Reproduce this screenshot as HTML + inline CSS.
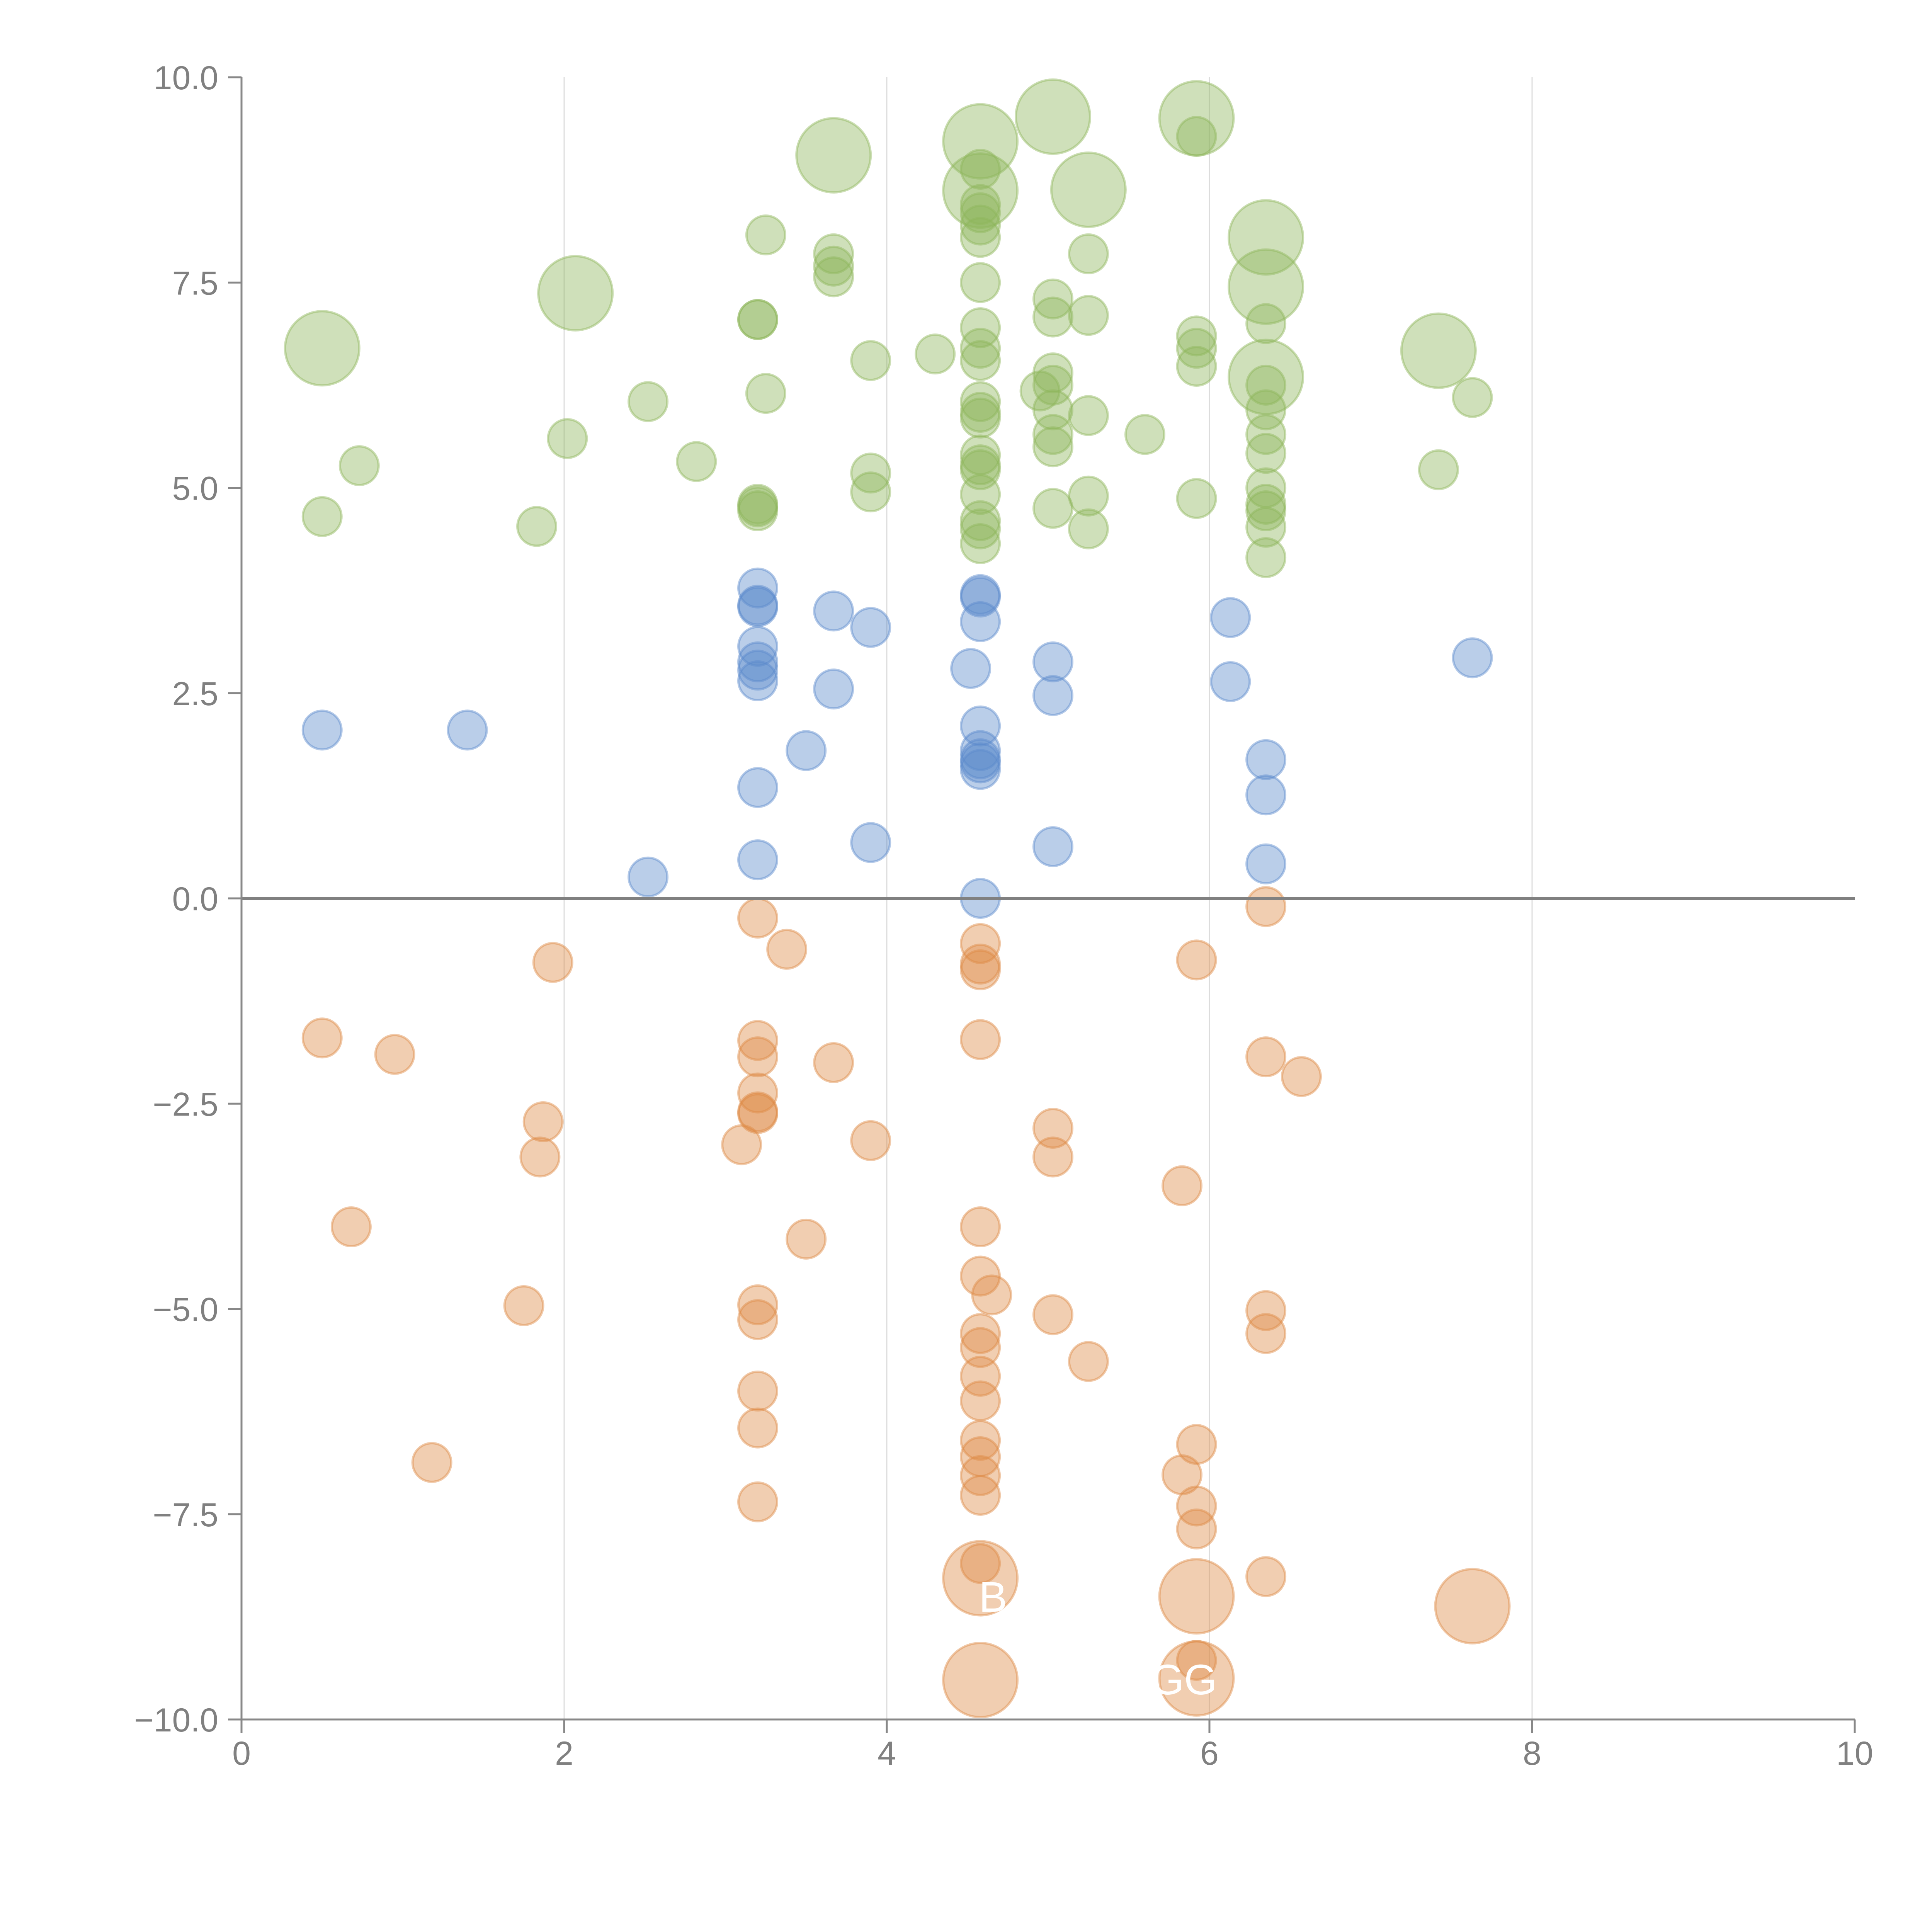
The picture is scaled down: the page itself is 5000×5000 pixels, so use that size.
<!DOCTYPE html>
<html><head><meta charset="utf-8"><style>
html,body{margin:0;padding:0;background:#fff;}
svg{display:block;}
text{font-family:"Liberation Sans",Arial,sans-serif;}
</style></head><body>
<svg id="chart" width="5000" height="5000" viewBox="0 0 5000 5000" xmlns="http://www.w3.org/2000/svg">
<g id="grid"></g>
<g id="marks"></g>
<g id="axes"></g>
<g id="labels">
<text x="2570" y="4171" font-size="110" fill="#fff" text-anchor="middle">B</text>
<text x="3150" y="4385" font-size="110" fill="#fff" text-anchor="end">GG</text>
</g>
</svg>
<script>
const xTicks = [0,2,4,6,8,10];
const yTicks = [-10,-7.5,-5,-2.5,0,2.5,5,7.5,10];
const yTickLabels = ["\u221210.0","\u22127.5","\u22125.0","\u22122.5","0.0","2.5","5.0","7.5","10.0"];
const gridX = [2,4,6,8];

const greenX = [0.5,0.5,0.73,1.83,2.02,2.07,2.52,2.82,3.2,3.2,3.25,3.25,3.2,3.2,3.2,3.67,3.67,3.67,3.67,3.9,3.9,3.9,4.3,4.58,4.58,4.58,4.58,4.58,4.58,4.58,4.58,4.58,4.58,4.58,4.58,4.58,4.58,4.58,4.58,4.58,4.58,4.58,4.58,4.58,5.03,4.95,5.03,5.03,5.03,5.03,5.03,5.03,5.03,5.03,5.25,5.25,5.25,5.25,5.25,5.25,5.6,5.92,5.92,5.92,5.92,5.92,5.92,6.35,6.35,6.35,6.35,6.35,6.35,6.35,6.35,6.35,6.35,6.35,6.35,6.35,7.42,7.42,7.63];
const greenY = [6.7,4.65,5.27,4.53,5.6,7.37,6.05,5.32,7.05,7.05,8.08,6.15,4.8,4.72,4.77,9.05,7.85,7.7,7.57,6.55,5.18,4.95,6.63,9.22,8.62,8.88,8.45,8.35,8.2,8.05,7.5,6.95,6.7,6.55,6.05,5.92,5.85,5.4,5.28,5.22,4.92,4.6,4.5,4.32,9.52,6.18,7.3,7.08,6.4,6.25,5.95,5.65,5.5,4.75,8.63,7.85,7.1,5.88,4.9,4.5,5.65,9.5,9.28,6.85,6.7,6.48,4.87,8.05,7.45,6.35,7.0,6.25,5.95,5.65,5.42,5.0,4.8,4.72,4.52,4.15,6.67,5.22,6.1];
const greenLarge = [1,0,0,0,0,1,0,0,0,0,0,0,0,0,0,1,0,0,0,0,0,0,0,1,1,0,0,0,0,0,0,0,0,0,0,0,0,0,0,0,0,0,0,0,1,0,0,0,0,0,0,0,0,0,1,0,0,0,0,0,0,1,0,0,0,0,0,1,1,1,0,0,0,0,0,0,0,0,0,0,1,0,0];

const blueX = [0.5,1.4,2.52,3.2,3.2,3.2,3.2,3.2,3.2,3.2,3.2,3.2,3.5,3.67,3.67,3.9,3.9,4.52,4.58,4.58,4.58,4.58,4.58,4.58,4.58,4.58,4.58,5.03,5.03,5.03,6.13,6.13,6.35,6.35,6.35,7.63];
const blueY = [2.05,2.05,0.26,3.78,3.57,3.55,3.07,2.88,2.78,2.65,1.35,0.47,1.8,3.5,2.55,3.3,0.68,2.8,3.7,3.67,3.37,2.1,1.8,1.7,1.65,1.57,0.0,2.88,2.47,0.63,3.42,2.64,1.69,1.26,0.42,2.93];

const orangeX = [0.5,0.68,0.95,1.18,1.75,1.85,1.87,1.93,3.1,3.2,3.2,3.2,3.2,3.2,3.2,3.2,3.2,3.2,3.2,3.2,3.38,3.5,3.67,3.9,4.58,4.58,4.58,4.58,4.58,4.58,4.65,4.58,4.58,4.58,4.58,4.58,4.58,4.58,4.58,4.58,4.58,4.58,5.03,5.03,5.03,5.25,5.83,5.83,5.92,5.92,5.92,5.92,5.92,5.92,5.92,6.35,6.35,6.35,6.35,6.35,6.57,7.63];
const orangeY = [-1.7,-4.0,-1.9,-6.87,-4.96,-3.15,-2.72,-0.78,-3.0,-0.24,-1.73,-1.93,-2.37,-2.6,-2.62,-4.95,-5.13,-6.0,-6.45,-7.35,-0.62,-4.15,-2.0,-2.95,-0.55,-0.8,-0.87,-1.72,-4.0,-4.6,-4.83,-5.3,-5.47,-5.82,-6.12,-6.6,-6.8,-7.03,-7.27,-8.1,-8.28,-9.52,-2.8,-3.15,-5.07,-5.64,-3.5,-7.02,-0.75,-6.65,-7.4,-7.68,-8.5,-9.28,-9.5,-0.1,-1.93,-5.02,-5.3,-8.26,-2.17,-8.62];
const orangeLarge = [0,0,0,0,0,0,0,0,0,0,0,0,0,0,0,0,0,0,0,0,0,0,0,0,0,0,0,0,0,0,0,0,0,0,0,0,0,0,0,0,1,1,0,0,0,0,0,0,0,0,0,0,1,0,1,0,0,0,0,0,0,1];

const NS = "http://www.w3.org/2000/svg";
const X0 = 625, X1 = 4800, Y0 = 4450, Y1 = 200;
function sx(v){ return X0 + (v - 0) / 10 * (X1 - X0); }
function sy(v){ return Y0 - (v + 10) / 20 * (Y0 - Y1); }
function mk(tag, attrs, parent){ const e = document.createElementNS(NS, tag); for (const k in attrs) e.setAttribute(k, attrs[k]); parent.appendChild(e); return e; }

const grid = document.getElementById('grid');
gridX.forEach(v => {
  const l = mk('line', {x1: sx(v), x2: sx(v), y1: Y1, y2: Y0, stroke: '#dcdcdc', 'stroke-width': 3}, grid);
  
  
});

const marks = document.getElementById('marks');
function drawSeries(xs, ys, large, color, name) {
  const g = mk('g', {}, marks);
  
  
  xs.forEach((x, i) => {
    const r = large && large[i] ? 96 : 50;
    const c = mk('circle', {cx: sx(x), cy: sy(ys[i]), r: r, fill: color, 'fill-opacity': 0.42, stroke: color, 'stroke-opacity': 0.45, 'stroke-width': 6}, g);
    
    
  });
}
drawSeries(greenX, greenY, greenLarge, '#8db55a', 'green');
drawSeries(blueX, blueY, null, '#5a8acb', 'blue');
drawSeries(orangeX, orangeY, orangeLarge, '#dd8a45', 'orange');

const axes = document.getElementById('axes');
const zl = mk('line', {x1: X0, x2: X1, y1: sy(0), y2: sy(0), stroke: '#808080', 'stroke-width': 8}, axes);


const ya = mk('line', {x1: X0, x2: X0, y1: Y1, y2: Y0, stroke: '#888', 'stroke-width': 5}, axes);


const xa = mk('line', {x1: X0, x2: X1, y1: Y0, y2: Y0, stroke: '#888', 'stroke-width': 5}, axes);



yTicks.forEach((v, i) => {
  const t = mk('line', {x1: X0 - 35, x2: X0, y1: sy(v), y2: sy(v), stroke: '#888', 'stroke-width': 5}, axes);
  
  
  const tx = mk('text', {x: 565, y: sy(v) + 31, 'font-size': 86, fill: '#808080', 'text-anchor': 'end'}, axes);
  tx.textContent = yTickLabels[i];
  
  
});
xTicks.forEach(v => {
  const t = mk('line', {x1: sx(v), x2: sx(v), y1: Y0, y2: Y0 + 35, stroke: '#888', 'stroke-width': 5}, axes);
  
  
  const tx = mk('text', {x: sx(v), y: 4567, 'font-size': 86, fill: '#808080', 'text-anchor': 'middle'}, axes);
  tx.textContent = String(v);
  
  
});
</script>
</body></html>
